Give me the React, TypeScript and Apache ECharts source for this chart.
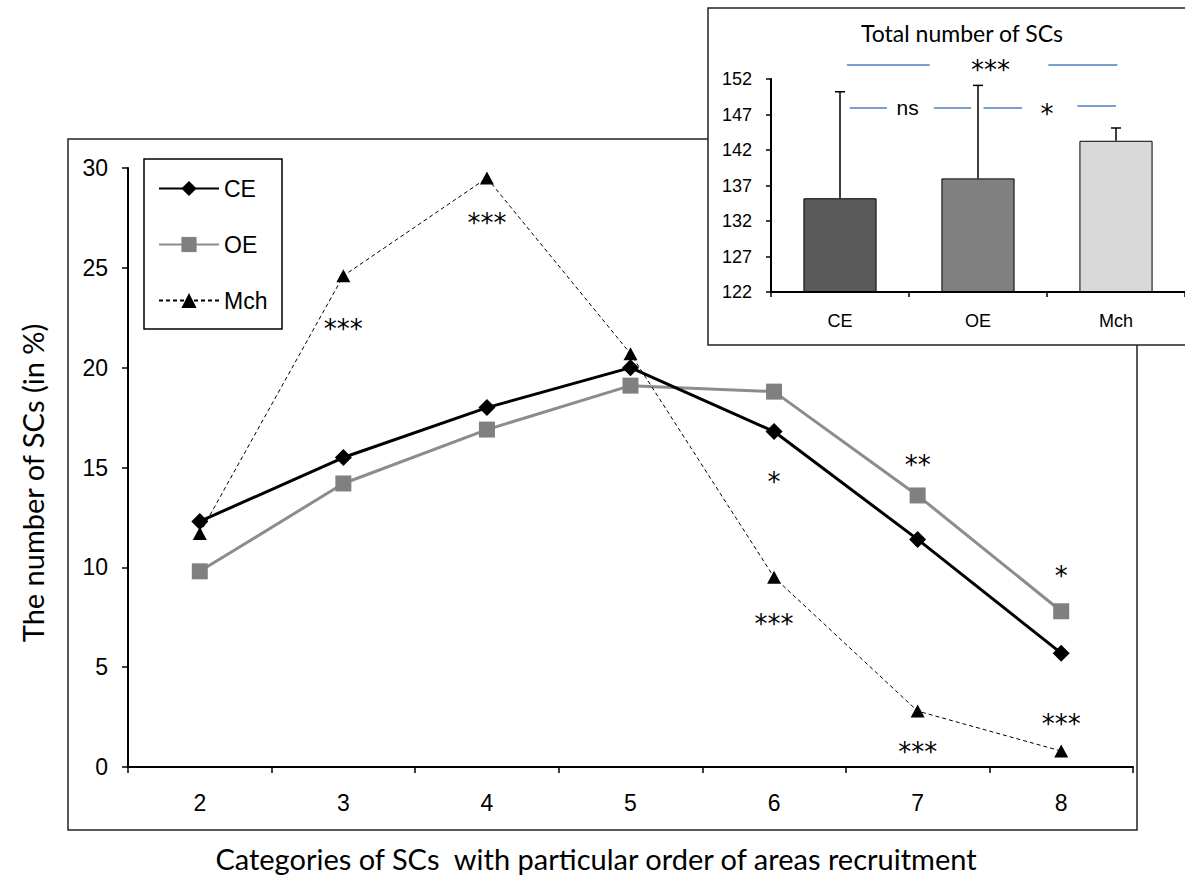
import React, { useEffect, useRef } from 'react';
import * as echarts from 'echarts';

// ---------- main chart data ----------
const categories = ['2', '3', '4', '5', '6', '7', '8'];
const ceValues = [12.3, 15.5, 18.0, 20.0, 16.8, 11.4, 5.7];
const oeValues = [9.8, 14.2, 16.9, 19.1, 18.8, 13.6, 7.8];
const mchValues = [11.7, 24.6, 29.5, 20.7, 9.5, 2.8, 0.8];

// significance marks in the main chart
const starCats = ['3', '4', '6', '6', '7', '7', '8', '8'];
const starValues = [22.2, 27.5, 14.5, 7.4, 15.4, 1.0, 9.8, 2.4];
const starTexts = ['***', '***', '*', '***', '**', '***', '*', '***'];

// ---------- inset data ----------
const insetGroups = ['CE', 'OE', 'Mch'];
const insetMeans = [135.2, 138.0, 143.3];
const insetUpper = [150.2, 151.1, 145.1];
const insetColors = ['#595959', '#808080', '#d9d9d9'];

// significance brackets (hidden value axis 0..3 across the inset)
const sigSegX0 = [0.55, 2.01, 0.57, 1.18, 1.54, 2.22];
const sigSegX1 = [1.15, 2.51, 0.84, 1.45, 1.82, 2.5];
const sigSegY = [154.0, 154.0, 148.0, 148.0, 148.0, 148.2];
const sigLabelX = [1.59, 0.99, 2.0];
const sigLabelY = [154.0, 148.0, 147.8];
const sigLabelText = ['***', 'ns', '*'];

const ARIAL = "'Liberation Sans', Arial, sans-serif";
const CALIBRI = "Lato, 'Open Sans', sans-serif";
const STAR = "'DejaVu Sans', sans-serif";

function textItem(text: string, pt: number[]) {
  const isNs = text === 'ns';
  return {
    type: 'text',
    x: pt[0],
    y: pt[1] + (isNs ? 0 : 5),
    style: {
      text,
      fill: '#000',
      fontFamily: isNs ? ARIAL : STAR,
      fontSize: isNs ? 21 : 26,
      textAlign: 'center',
      textVerticalAlign: 'middle',
    },
  };
}

export default function App() {
  const ref = useRef<HTMLDivElement>(null);

  useEffect(() => {
    document.body.style.margin = '0';
    const chart = echarts.init(ref.current!, undefined, { renderer: 'svg' });

    const option: any = {
      animation: false,
      backgroundColor: '#fff',
      graphic: [
        {
          type: 'rect',
          z: 0,
          shape: { x: 68, y: 139, width: 1069, height: 691 },
          style: { fill: 'none', stroke: '#222', lineWidth: 1.5 },
        },
        {
          type: 'rect',
          z: 0,
          shape: { x: 144, y: 159, width: 138, height: 170 },
          style: { fill: 'none', stroke: '#000', lineWidth: 1.5 },
        },
        {
          type: 'rect',
          z: 3,
          shape: { x: 708, y: 8, width: 490, height: 337 },
          style: { fill: '#fff', stroke: '#222', lineWidth: 1.5 },
        },
        {
          type: 'text',
          z: 4,
          x: 962,
          y: 33,
          style: {
            text: 'Total number of SCs',
            fontFamily: CALIBRI,
            fontSize: 23,
            fill: '#000',
            textAlign: 'center',
            textVerticalAlign: 'middle',
          },
        },
        {
          type: 'text',
          z: 4,
          x: 596,
          y: 858,
          style: {
            text: 'Categories of SCs  with particular order of areas recruitment',
            fontFamily: CALIBRI,
            fontSize: 29,
            fill: '#000',
            textAlign: 'center',
            textVerticalAlign: 'middle',
          },
        },
        {
          type: 'text',
          z: 4,
          x: 32,
          y: 483,
          rotation: Math.PI / 2,
          style: {
            text: 'The number of SCs (in %)',
            fontFamily: CALIBRI,
            fontSize: 29,
            fill: '#000',
            textAlign: 'center',
            textVerticalAlign: 'middle',
          },
        },
      ],
      legend: {
        orient: 'vertical',
        left: 158,
        top: 177,
        padding: 0,
        itemWidth: 60,
        itemHeight: 19,
        itemGap: 33,
        data: ['CE', 'OE', 'Mch'],
        textStyle: { fontFamily: ARIAL, fontSize: 23, color: '#000', lineHeight: 23 },
        selectedMode: false,
      },
      grid: [
        { left: 128, top: 168, width: 1005, height: 599 },
        { left: 771, top: 79, width: 420, height: 213 },
      ],
      xAxis: [
        {
          gridIndex: 0,
          type: 'category',
          data: categories,
          boundaryGap: true,
          axisLine: { lineStyle: { color: '#000', width: 2 } },
          axisTick: { show: true, inside: false, length: 6, lineStyle: { color: '#000', width: 1.5 } },
          axisLabel: { fontFamily: ARIAL, fontSize: 23, color: '#000', margin: 24 },
          splitLine: { show: false },
        },
        {
          gridIndex: 1,
          type: 'category',
          data: insetGroups,
          boundaryGap: true,
          z: 10,
          axisLine: { lineStyle: { color: '#000', width: 2 } },
          axisTick: { show: true, inside: false, length: 5, lineStyle: { color: '#000', width: 1.5 } },
          axisLabel: { fontFamily: ARIAL, fontSize: 18, color: '#000', margin: 20 },
          splitLine: { show: false },
        },
        {
          gridIndex: 1,
          type: 'value',
          min: 0,
          max: 3,
          show: false,
        },
      ],
      yAxis: [
        {
          gridIndex: 0,
          type: 'value',
          min: 0,
          max: 30,
          interval: 5,
          axisLine: { show: true, lineStyle: { color: '#000', width: 2 } },
          axisTick: { show: true, inside: false, length: 6, lineStyle: { color: '#000', width: 1.5 } },
          axisLabel: { fontFamily: ARIAL, fontSize: 23, color: '#000', margin: 20 },
          splitLine: { show: false },
        },
        {
          gridIndex: 1,
          type: 'value',
          min: 122,
          max: 152,
          interval: 5,
          z: 10,
          axisLine: { show: true, lineStyle: { color: '#000', width: 2 } },
          axisTick: { show: true, inside: false, length: 5, lineStyle: { color: '#000', width: 1.5 } },
          axisLabel: { fontFamily: ARIAL, fontSize: 18, color: '#000', margin: 19 },
          splitLine: { show: false },
        },
      ],
      series: [
        {
          name: 'CE',
          type: 'line',
          xAxisIndex: 0,
          yAxisIndex: 0,
          data: ceValues,
          symbol: 'diamond',
          symbolSize: [17, 17],
          z: 4,
          lineStyle: { color: '#000', width: 3 },
          itemStyle: { color: '#000' },
          emphasis: { disabled: true },
        },
        {
          name: 'OE',
          type: 'line',
          xAxisIndex: 0,
          yAxisIndex: 0,
          data: oeValues,
          symbol: 'rect',
          symbolSize: 16,
          z: 3,
          lineStyle: { color: '#8c8c8c', width: 3 },
          itemStyle: { color: '#808080' },
          emphasis: { disabled: true },
        },
        {
          name: 'Mch',
          type: 'line',
          xAxisIndex: 0,
          yAxisIndex: 0,
          data: mchValues,
          symbol: 'triangle',
          symbolSize: [14, 13],
          z: 5,
          lineStyle: { color: '#000', width: 1, type: [4, 3] },
          itemStyle: { color: '#000' },
          emphasis: { disabled: true },
        },
        {
          name: 'stars',
          type: 'custom',
          xAxisIndex: 0,
          yAxisIndex: 0,
          silent: true,
          z: 6,
          data: starCats.map((c, i) => [categories.indexOf(c), starValues[i]]),
          encode: { x: 0, y: 1 },
          renderItem: (params: any, api: any) =>
            textItem(starTexts[params.dataIndex], api.coord([api.value(0), api.value(1)])),
        },
        {
          name: 'total',
          type: 'bar',
          xAxisIndex: 1,
          yAxisIndex: 1,
          barWidth: '53%',
          z: 8,
          data: insetMeans.map((v, i) => ({ value: v, itemStyle: { color: insetColors[i] } })),
          itemStyle: { borderColor: '#000', borderWidth: 1 },
          emphasis: { disabled: true },
        },
        {
          name: 'err',
          type: 'custom',
          xAxisIndex: 1,
          yAxisIndex: 1,
          z: 9,
          data: insetMeans.map((m, i) => [i, m, insetUpper[i]]),
          encode: { x: 0, y: [1, 2] },
          renderItem: (params: any, api: any) => {
            const x = api.value(0);
            const p0 = api.coord([x, api.value(1)]);
            const p1 = api.coord([x, api.value(2)]);
            const half = 5;
            return {
              type: 'group',
              children: [
                {
                  type: 'line',
                  shape: { x1: p0[0], y1: p0[1], x2: p1[0], y2: p1[1] },
                  style: { stroke: '#000', lineWidth: 1.5 },
                },
                {
                  type: 'line',
                  shape: { x1: p1[0] - half, y1: p1[1], x2: p1[0] + half, y2: p1[1] },
                  style: { stroke: '#000', lineWidth: 1.5 },
                },
              ],
            };
          },
        },
        {
          name: 'sigLines',
          type: 'lines',
          coordinateSystem: 'cartesian2d',
          xAxisIndex: 2,
          yAxisIndex: 1,
          clip: false,
          z: 9,
          silent: true,
          lineStyle: { color: '#4f81bd', width: 1.5, opacity: 1 },
          data: sigSegX0.map((x0, i) => ({
            coords: [
              [x0, sigSegY[i]],
              [sigSegX1[i], sigSegY[i]],
            ],
          })),
        },
        {
          name: 'sigText',
          type: 'custom',
          xAxisIndex: 2,
          yAxisIndex: 1,
          silent: true,
          z: 9,
          data: sigLabelX.map((x, i) => [x, sigLabelY[i]]),
          encode: { x: 0, y: 1 },
          renderItem: (params: any, api: any) =>
            textItem(sigLabelText[params.dataIndex], api.coord([api.value(0), api.value(1)])),
        },
      ],
    };

    chart.setOption(option);
    return () => chart.dispose();
  }, []);

  return <div ref={ref} style={{ width: 1185, height: 876 }} />;
}
